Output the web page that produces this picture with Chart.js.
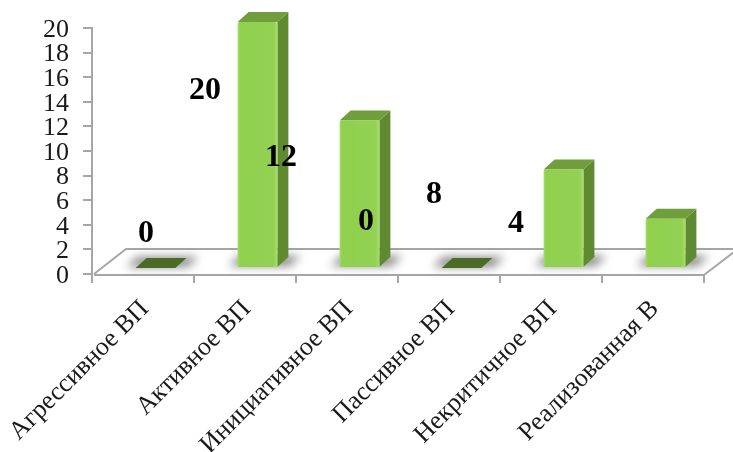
<!DOCTYPE html>
<html><head><meta charset="utf-8">
<style>html,body{margin:0;padding:0;background:#fff;overflow:hidden}canvas{display:block}</style>
<script src="https://cdn.jsdelivr.net/npm/chart.js@4"></script>
</head><body><canvas id="c" width="733" height="452"></canvas>
<script>
const categories = ["Агрессивное ВП","Активное ВП","Инициативное ВП","Пассивное ВП","Некритичное ВП","Реализованная В"];
const values = [0,20,12,0,8,4];
const dataLabels = ["0","20","12","0","8","4"];
const yTicks = [0,2,4,6,8,10,12,14,16,18,20];
// misplaced data-label offsets from each value's own position, in px
const labelDx = [3,-40,-66,-83,-117,-137];
const labelDy = [-40,63,31,-52,19,-1];

const SHIFT_X = 12.5, SHIFT_Y = -6, DEPTH_X = 11, DEPTH_Y = 10;
const FLOOR_DX = 34, FLOOR_DY = 25, GREY = '#A6A6A6';
const SERIF = '"Liberation Serif","Times New Roman",serif';

function faces(ctx, b){
  const L = b.x - b.width/2, R = b.x + b.width/2, T = b.y, B = b.base;
  if (T < B - 0.5) {
    ctx.fillStyle = '#5F8A32';
    ctx.beginPath();
    ctx.moveTo(R,T); ctx.lineTo(R+DEPTH_X,T-DEPTH_Y); ctx.lineTo(R+DEPTH_X,B-DEPTH_Y); ctx.lineTo(R,B);
    ctx.closePath(); ctx.fill();
    ctx.fillStyle = '#6F9E3A';
  } else {
    ctx.fillStyle = '#4A6B26';
  }
  ctx.beginPath();
  ctx.moveTo(L,T); ctx.lineTo(L+DEPTH_X,T-DEPTH_Y); ctx.lineTo(R+DEPTH_X,T-DEPTH_Y); ctx.lineTo(R,T);
  ctx.closePath(); ctx.fill();
}

function nudgeLabels(s, dx, dy){
  if (s.$nudged) return;
  s.$nudged = true;
  const draw = s.drawLabels.bind(s);
  s.drawLabels = area => { s.ctx.save(); s.ctx.translate(dx,dy); draw(area); s.ctx.restore(); };
}

const scene = {
  id:'scene',
  beforeDatasetsDraw(chart){
    const {ctx, chartArea:a} = chart;
    const y0 = chart.scales.y.getPixelForValue(0);
    ctx.save();
    ctx.strokeStyle = GREY; ctx.lineWidth = 2; ctx.lineJoin='round';
    ctx.beginPath();
    ctx.moveTo(a.left+2,y0);
    ctx.lineTo(a.left+FLOOR_DX,y0-FLOOR_DY);
    ctx.lineTo(a.right+FLOOR_DX,y0-FLOOR_DY);
    ctx.lineTo(a.right,y0+1);
    ctx.lineTo(a.left+2,y0+1);
    ctx.stroke();
    // soft floor shadows
    const meta = chart.getDatasetMeta(0);
    ctx.filter = 'blur(5px)';
    ctx.fillStyle = 'rgba(90,90,90,.75)';
    meta.data.forEach(el=>{
      const b = el.getProps(['x','y','base','width'],true);
      const L = b.x-b.width/2+SHIFT_X-9, R = b.x+b.width/2+SHIFT_X+16, B = b.base+SHIFT_Y-1;
      ctx.beginPath();
      ctx.moveTo(L,B); ctx.lineTo(L+DEPTH_X,B-DEPTH_Y); ctx.lineTo(R+DEPTH_X-4,B-DEPTH_Y); ctx.lineTo(R-4,B);
      ctx.closePath(); ctx.fill();
    });
    ctx.restore();
  },
  beforeDatasetDraw(chart){
    const ctx = chart.ctx;
    ctx.save();
    ctx.translate(SHIFT_X,SHIFT_Y);
    chart.getDatasetMeta(0).data.forEach(el=>faces(ctx, el.getProps(['x','y','base','width'],true)));
  },
  afterDatasetDraw(chart){ chart.ctx.restore(); },
  afterDatasetsDraw(chart){
    const {ctx, scales:{x,y}} = chart;
    ctx.save();
    ctx.font = 'bold 32px '+SERIF;
    ctx.fillStyle = '#000';
    ctx.textAlign='center'; ctx.textBaseline='middle';
    values.forEach((v,i)=>{
      ctx.fillText(dataLabels[i], x.getPixelForValue(i)+labelDx[i], y.getPixelForValue(v)+labelDy[i]);
    });
    ctx.restore();
  }
};

new Chart(document.getElementById('c'),{
  type:'bar',
  data:{labels:categories,datasets:[{
    data:values,
    categoryPercentage:1,
    barPercentage:0.39,
    borderRadius:2,
    backgroundColor(c){
      const ch=c.chart, xs=ch.scales.x;
      if(!xs||c.dataIndex===undefined) return '#92D050';
      const mid=xs.getPixelForValue(c.dataIndex), w=xs.width/categories.length*0.39;
      if(!Number.isFinite(mid)||!Number.isFinite(w)) return '#92D050';
      const g=ch.ctx.createLinearGradient(mid-w/2,0,mid+w/2,0);
      g.addColorStop(0,'#A4DD68');g.addColorStop(.06,'#90D04E');g.addColorStop(.9,'#92D152');g.addColorStop(1,'#A6DE6C');
      return g;
    }
  }]},
  plugins:[scene],
  options:{
    responsive:false,animation:false,devicePixelRatio:1,
    layout:{padding:{top:28,right:29,left:0,bottom:0}},
    plugins:{legend:{display:false},tooltip:{enabled:false}},
    scales:{
      x:{
        offset:true,
        afterFit(s){s.height=452-274;s.paddingLeft=0;s.paddingRight=0;nudgeLabels(s,2,1);},
        grid:{drawOnChartArea:false,color:GREY,lineWidth:2,tickLength:9,offset:true},
        border:{display:false},
        ticks:{autoSkip:false,minRotation:45,maxRotation:45,color:'#1a1a1a',padding:10,font:{family:SERIF,size:26}}
      },
      y:{
        min:0,max:20,
        afterFit(s){s.width=92;s.paddingTop=0;s.paddingBottom=0;nudgeLabels(s,0,2);},
        afterBuildTicks(s){s.ticks=yTicks.map(v=>({value:v}));},
        grid:{drawOnChartArea:false,color:GREY,lineWidth:2,tickLength:9},
        border:{display:true,color:GREY,width:2},
        ticks:{autoSkip:false,color:'#1a1a1a',padding:14,font:{family:SERIF,size:26}}
      }
    }
  },
});
</script></body></html>
